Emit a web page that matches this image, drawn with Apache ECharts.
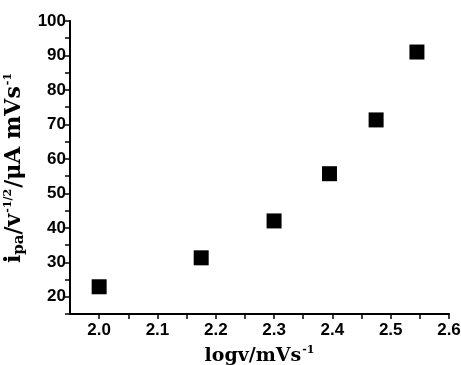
<!DOCTYPE html>
<html><head><meta charset="utf-8">
<script src="https://cdn.jsdelivr.net/npm/echarts@6/dist/echarts.min.js"></script>
<style>html,body{margin:0;padding:0;background:#fff}#c{width:461px;height:365px}</style>
</head><body><div id="c"></div>
<script>
var logV = [2.0, 2.175, 2.30, 2.395, 2.475, 2.545];
var ipaNorm = [22.9, 31.3, 42.0, 55.7, 71.3, 91.0];
var xTicks = [2.0, 2.1, 2.2, 2.3, 2.4, 2.5, 2.6];
var yTicks = [20, 30, 40, 50, 60, 70, 80, 90, 100];

var chart = echarts.init(document.getElementById('c'), null, {renderer: 'canvas'});
var lab = {fontFamily: 'Liberation Sans', fontWeight: 'bold', fontSize: 17, color: '#000'};
var ttl = {fontFamily: 'DejaVu Serif', fontWeight: 'bold', color: '#000'};
chart.setOption({
  animation: false,
  backgroundColor: '#fff',
  grid: {left: 70, top: 21, right: 12, bottom: 51, containLabel: false, outerBoundsMode: 'none'},
  xAxis: {
    type: 'value', min: 1.95, max: 2.6, interval: 0.05,
    axisLine: {onZero: false, lineStyle: {color: '#000', width: 2}},
    axisTick: {inside: false, length: 5, lineStyle: {color: '#000', width: 1.5}},
    splitLine: {show: false},
    axisLabel: Object.assign({margin: 8, formatter: function (v) {
      var r = Math.round(v * 100);
      return (r % 10 === 0) ? (r / 100).toFixed(1) : '';
    }, showMinLabel: false}, lab),
    name: '{a|logv/mVs}{s|-1}', nameLocation: 'middle', nameGap: 31,
    nameTextStyle: {rich: {a: Object.assign({fontSize: 19}, ttl), s: Object.assign({fontSize: 11, padding: [0,0,11,1]}, ttl)}}
  },
  yAxis: {
    type: 'value', min: 15, max: 100, interval: 5,
    axisLine: {onZero: false, lineStyle: {color: '#000', width: 2}},
    axisTick: {inside: false, length: 5, lineStyle: {color: '#000', width: 1.5}},
    splitLine: {show: false},
    axisLabel: Object.assign({margin: 4, formatter: function (v) {
      return (yTicks.indexOf(v) >= 0) ? String(v) : '';
    }}, lab),
    name: '{a|i}{b|pa}{a|/v}{s|-1/2}{a|/μA mVs}{s|-1}', nameLocation: 'middle', nameGap: 37, nameRotate: 90,
    nameTextStyle: {rich: {
      a: Object.assign({fontSize: 22}, ttl),
      b: Object.assign({fontSize: 15, padding: [10,0,0,0]}, ttl),
      s: Object.assign({fontSize: 11, padding: [0,1,13,1]}, ttl)
    }}
  },
  series: [{
    type: 'scatter', symbol: 'rect', symbolSize: 15,
    itemStyle: {color: '#000', opacity: 1},
    data: logV.map(function (x, i) { return [x, ipaNorm[i]]; })
  }]
});
</script></body></html>
